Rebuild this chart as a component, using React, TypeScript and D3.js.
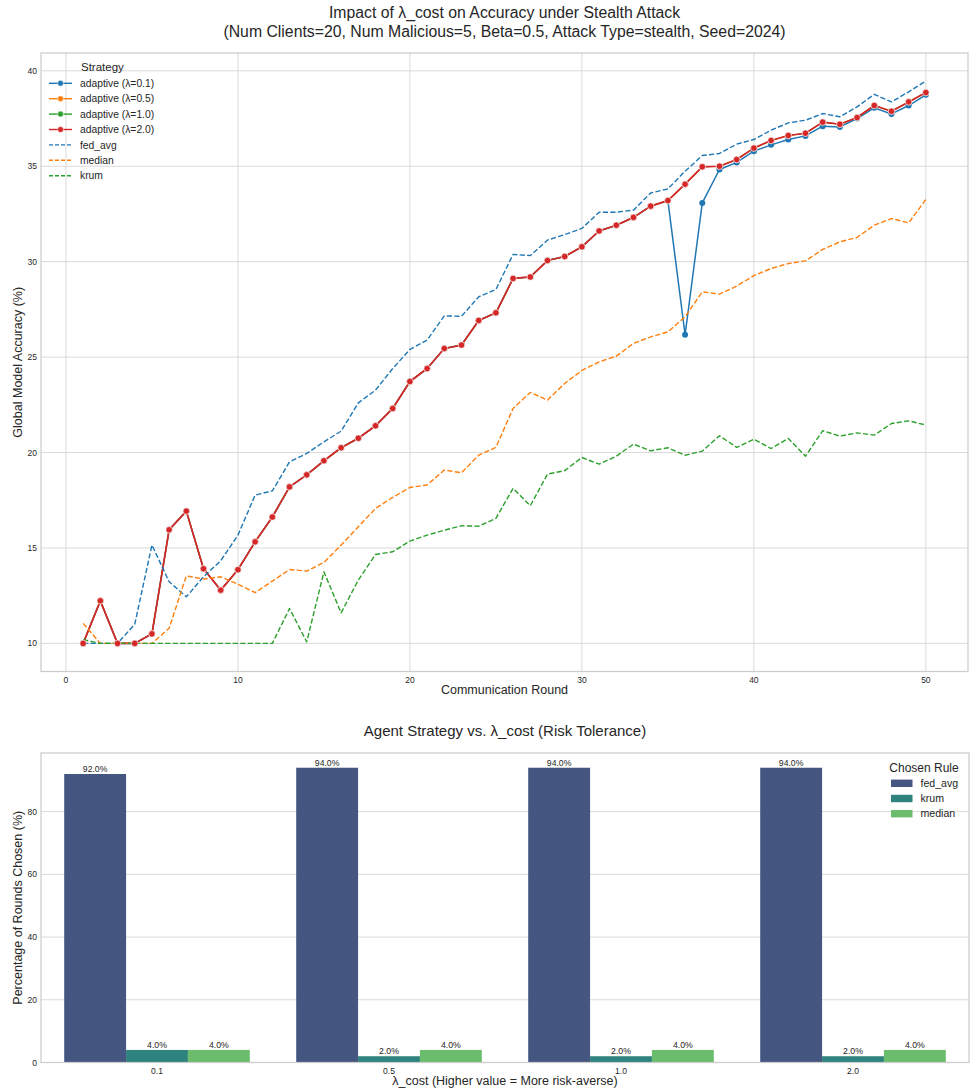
import React from "react";
import * as d3 from "d3";

const rounds = [1,2,3,4,5,6,7,8,9,10,11,12,13,14,15,16,17,18,19,20,21,22,23,24,25,26,27,28,29,30,31,32,33,34,35,36,37,38,39,40,41,42,43,44,45,46,47,48,49,50];

const adaptive01 = [10.0,12.23,10.0,10.0,10.5,15.95,16.93,13.91,12.79,13.86,15.32,16.62,18.2,18.83,19.57,20.25,20.75,21.4,22.31,23.72,24.4,25.45,25.63,26.92,27.32,29.12,29.2,30.06,30.27,30.78,31.61,31.91,32.32,32.91,33.2,26.17,33.08,34.83,35.2,35.79,36.12,36.4,36.59,37.1,37.06,37.5,38.06,37.74,38.18,38.74];
const adaptive05 = [10.0,12.23,10.0,10.0,10.5,15.95,16.93,13.91,12.79,13.86,15.32,16.62,18.2,18.83,19.57,20.25,20.75,21.4,22.31,23.72,24.4,25.45,25.63,26.92,27.32,29.12,29.2,30.06,30.27,30.78,31.61,31.91,32.32,32.91,33.2,34.06,34.97,35.0,35.35,35.95,36.35,36.61,36.73,37.31,37.2,37.55,38.18,37.88,38.37,38.86];
const adaptive10 = [10.0,12.23,10.0,10.0,10.5,15.95,16.93,13.91,12.79,13.86,15.32,16.62,18.2,18.83,19.57,20.25,20.75,21.4,22.31,23.72,24.4,25.45,25.63,26.92,27.32,29.12,29.2,30.06,30.27,30.78,31.61,31.91,32.32,32.91,33.2,34.06,34.97,35.0,35.35,35.95,36.35,36.61,36.73,37.31,37.2,37.55,38.18,37.88,38.37,38.86];
const adaptive20 = [10.0,12.23,10.0,10.0,10.5,15.95,16.93,13.91,12.79,13.86,15.32,16.62,18.2,18.83,19.57,20.25,20.75,21.4,22.31,23.72,24.4,25.45,25.63,26.92,27.32,29.12,29.2,30.06,30.27,30.78,31.61,31.91,32.32,32.91,33.2,34.06,34.97,35.0,35.35,35.95,36.35,36.61,36.73,37.31,37.2,37.55,38.18,37.88,38.37,38.86];
const fedAvg = [10.0,10.0,10.0,11.0,15.15,13.23,12.44,13.49,14.33,15.67,17.77,17.99,19.51,19.95,20.56,21.12,22.6,23.27,24.4,25.4,25.89,27.16,27.14,28.16,28.54,30.38,30.32,31.13,31.42,31.74,32.59,32.59,32.7,33.6,33.81,34.74,35.56,35.67,36.16,36.4,36.89,37.27,37.41,37.76,37.59,38.11,38.77,38.37,38.9,39.46];
const median = [11.05,10.0,10.0,10.0,10.0,10.79,13.54,13.37,13.49,13.1,12.66,13.26,13.87,13.79,14.24,15.15,16.11,17.07,17.65,18.17,18.3,19.08,18.94,19.86,20.27,22.31,23.15,22.75,23.62,24.3,24.75,25.05,25.72,26.06,26.32,27.11,28.42,28.3,28.72,29.27,29.64,29.9,30.04,30.64,31.04,31.27,31.91,32.26,32.03,33.26];
const krum = [10.2,10.0,10.0,10.0,10.0,10.0,10.0,10.0,10.0,10.0,10.0,10.0,11.83,10.08,13.75,11.6,13.32,14.66,14.8,15.36,15.67,15.93,16.16,16.14,16.55,18.12,17.21,18.87,19.05,19.74,19.39,19.81,20.44,20.09,20.25,19.86,20.07,20.88,20.27,20.7,20.21,20.74,19.81,21.14,20.86,21.03,20.91,21.52,21.66,21.44];

const seriesNames = ["adaptive (λ=0.1)","adaptive (λ=0.5)","adaptive (λ=1.0)","adaptive (λ=2.0)","fed_avg","median","krum"];
const seriesValues = [adaptive01, adaptive05, adaptive10, adaptive20, fedAvg, median, krum];
const seriesColors = ["#1f77b4","#ff7f0e","#2ca02c","#d62728","#1f77b4","#ff7f0e","#2ca02c"];
const seriesDashed = [false,false,false,false,true,true,true];

const xTicks = [0,10,20,30,40,50];
const yTicks = [10,15,20,25,30,35,40];

const lambdaCats = ["0.1","0.5","1.0","2.0"];
const rules = ["fed_avg","krum","median"];
const ruleColors = ["#455681","#2f837f","#6cbc6e"];
const fedAvgPct = [92,94,94,94];
const krumPct = [4,2,2,2];
const medianPct = [4,4,4,4];
const barYTicks = [0,20,40,60,80];

const FONT = "'Liberation Sans', Arial, 'Helvetica', sans-serif";
const TXT = "#262626";
const GRID = "#dadada";

export default function App() {
  // ---------- top chart ----------
  const L = 41, R = 968, T1 = 53, B1 = 671.5;
  const all = seriesValues.flat();
  const [mn, mx] = d3.extent(all) as [number, number];
  const pad = (mx - mn) * 0.05;
  const x = d3.scaleLinear().domain([1 - 49 * 0.05, 50 + 49 * 0.05]).range([L, R]);
  const y = d3.scaleLinear().domain([mn - pad, mx + pad]).range([B1, T1]);
  const line = d3.line<number>().x((_, i) => x(rounds[i])).y((d) => y(d));

  // ---------- bottom chart ----------
  const T2 = 753, B2 = 1062.5;
  const bx = d3.scaleBand<string>().domain(lambdaCats).range([L, 969]).paddingInner(0.2).paddingOuter(0.1);
  const hx = d3.scaleBand<string>().domain(rules).range([0, bx.bandwidth()]);
  const by = d3.scaleLinear().domain([0, 94 * 1.05]).range([B2, T2]);
  const ruleVals = [fedAvgPct, krumPct, medianPct];

  const cx = (L + R) / 2;
  // hidden adaptive lines are slightly thinner so the top (red) line keeps clean edges
  const lineWidth = (si: number) => (seriesDashed[si] ? 1.4 : si === 3 ? 1.7 : si === 0 ? 1.5 : 1.1);

  return (
    <svg width={977} height={1091} style={{ position: "absolute", left: 0, top: 0, background: "#fff" }} fontFamily={FONT}>
      <rect x={0} y={0} width={977} height={1091} fill="#fff" />
      {/* ===== Top chart ===== */}
      <text x={cx} y={18} textAnchor="middle" fontSize={15.8} fill={TXT}>Impact of λ_cost on Accuracy under Stealth Attack</text>
      <text x={cx} y={37} textAnchor="middle" fontSize={15.8} fill={TXT}>(Num Clients=20, Num Malicious=5, Beta=0.5, Attack Type=stealth, Seed=2024)</text>
      <g>
        {xTicks.map((t) => (
          <line key={"xg" + t} x1={x(t)} x2={x(t)} y1={T1} y2={B1} stroke={GRID} strokeWidth={1} />
        ))}
        {yTicks.map((t) => (
          <line key={"yg" + t} x1={L} x2={R} y1={y(t)} y2={y(t)} stroke={GRID} strokeWidth={1} />
        ))}
        <rect x={L} y={T1} width={R - L} height={B1 - T1} fill="none" stroke="#cccccc" strokeWidth={1.25} />
        {xTicks.map((t) => (
          <text key={"xt" + t} x={x(t)} y={B1 + 11} textAnchor="middle" fontSize={8.5} fill={TXT}>{t}</text>
        ))}
        {yTicks.map((t) => (
          <text key={"yt" + t} x={L - 4} y={y(t) + 3} textAnchor="end" fontSize={8.5} fill={TXT}>{t}</text>
        ))}
        <text x={cx} y={694} textAnchor="middle" fontSize={12.5} fill={TXT}>Communication Round</text>
        <text transform={`translate(22,${(T1 + B1) / 2}) rotate(-90)`} textAnchor="middle" fontSize={12.5} fill={TXT}>Global Model Accuracy (%)</text>

        {seriesValues.map((vals, si) => (
          <path key={"ln" + si} d={line(vals) || ""} fill="none" stroke={seriesColors[si]}
            strokeWidth={lineWidth(si)}
            strokeDasharray={seriesDashed[si] ? "5.2,2.3" : undefined} strokeLinejoin="round" />
        ))}
        {seriesValues.map((vals, si) =>
          seriesDashed[si] ? null : (
            <g key={"mk" + si}>
              {vals.map((v, i) => (
                <circle key={i} cx={x(rounds[i])} cy={y(v)} r={si === 3 ? 3.3 : 3.0} fill={seriesColors[si]} stroke="#fff" strokeWidth={si === 3 ? 0.7 : 0} />
              ))}
            </g>
          )
        )}

        {/* legend */}
        <text x={81} y={70.5} fontSize={11.5} fill={TXT}>Strategy</text>
        {seriesNames.map((n, i) => {
          const ly = 83.3 + i * 15.4;
          return (
            <g key={"lg" + i}>
              <line x1={49} x2={72} y1={ly} y2={ly} stroke={seriesColors[i]} strokeWidth={1.4}
                strokeDasharray={seriesDashed[i] ? "4,2" : undefined} />
              {!seriesDashed[i] && <circle cx={60.5} cy={ly} r={3} fill={seriesColors[i]} stroke="#fff" strokeWidth={0.6} />}
              <text x={80} y={ly + 3.6} fontSize={10.3} fill={TXT}>{n}</text>
            </g>
          );
        })}
      </g>

      {/* ===== Bottom chart ===== */}
      <text x={(L + 969) / 2} y={736} textAnchor="middle" fontSize={15} fill={TXT}>Agent Strategy vs. λ_cost (Risk Tolerance)</text>
      <g>
        {barYTicks.map((t) => (
          <line key={"bg" + t} x1={L} x2={969} y1={by(t)} y2={by(t)} stroke={GRID} strokeWidth={1} />
        ))}
        {lambdaCats.map((c, ci) =>
          rules.map((r, ri) => {
            const v = ruleVals[ri][ci];
            const x0 = (bx(c) || 0) + (hx(r) || 0);
            return (
              <g key={c + r}>
                <rect x={x0} y={by(v)} width={hx.bandwidth()} height={B2 - by(v)} fill={ruleColors[ri]} />
                <text x={x0 + hx.bandwidth() / 2} y={by(v) - 2} textAnchor="middle" fontSize={8.7} fill={TXT}>{v.toFixed(1)}%</text>
              </g>
            );
          })
        )}
        <rect x={L} y={T2} width={969 - L} height={B2 - T2} fill="none" stroke="#cccccc" strokeWidth={1.25} />
        {lambdaCats.map((c) => (
          <text key={"bt" + c} x={(bx(c) || 0) + bx.bandwidth() / 2} y={B2 + 11} textAnchor="middle" fontSize={8.5} fill={TXT}>{c}</text>
        ))}
        {barYTicks.map((t) => (
          <text key={"byt" + t} x={L - 4} y={by(t) + 3} textAnchor="end" fontSize={8.5} fill={TXT}>{t}</text>
        ))}
        <text x={(L + 969) / 2} y={1085} textAnchor="middle" fontSize={12.5} fill={TXT}>λ_cost (Higher value = More risk-averse)</text>
        <text transform={`translate(22,${(T2 + B2) / 2}) rotate(-90)`} textAnchor="middle" fontSize={12.5} fill={TXT}>Percentage of Rounds Chosen (%)</text>

        <text x={924} y={772} textAnchor="middle" fontSize={12} fill={TXT}>Chosen Rule</text>
        {rules.map((r, i) => {
          const ly = 783.3 + i * 15.2;
          return (
            <g key={"bl" + r}>
              <rect x={891} y={ly - 3.7} width={21.5} height={7.4} fill={ruleColors[i]} />
              <text x={920.5} y={ly + 3.7} fontSize={10.6} fill={TXT}>{r}</text>
            </g>
          );
        })}
      </g>
    </svg>
  );
}
